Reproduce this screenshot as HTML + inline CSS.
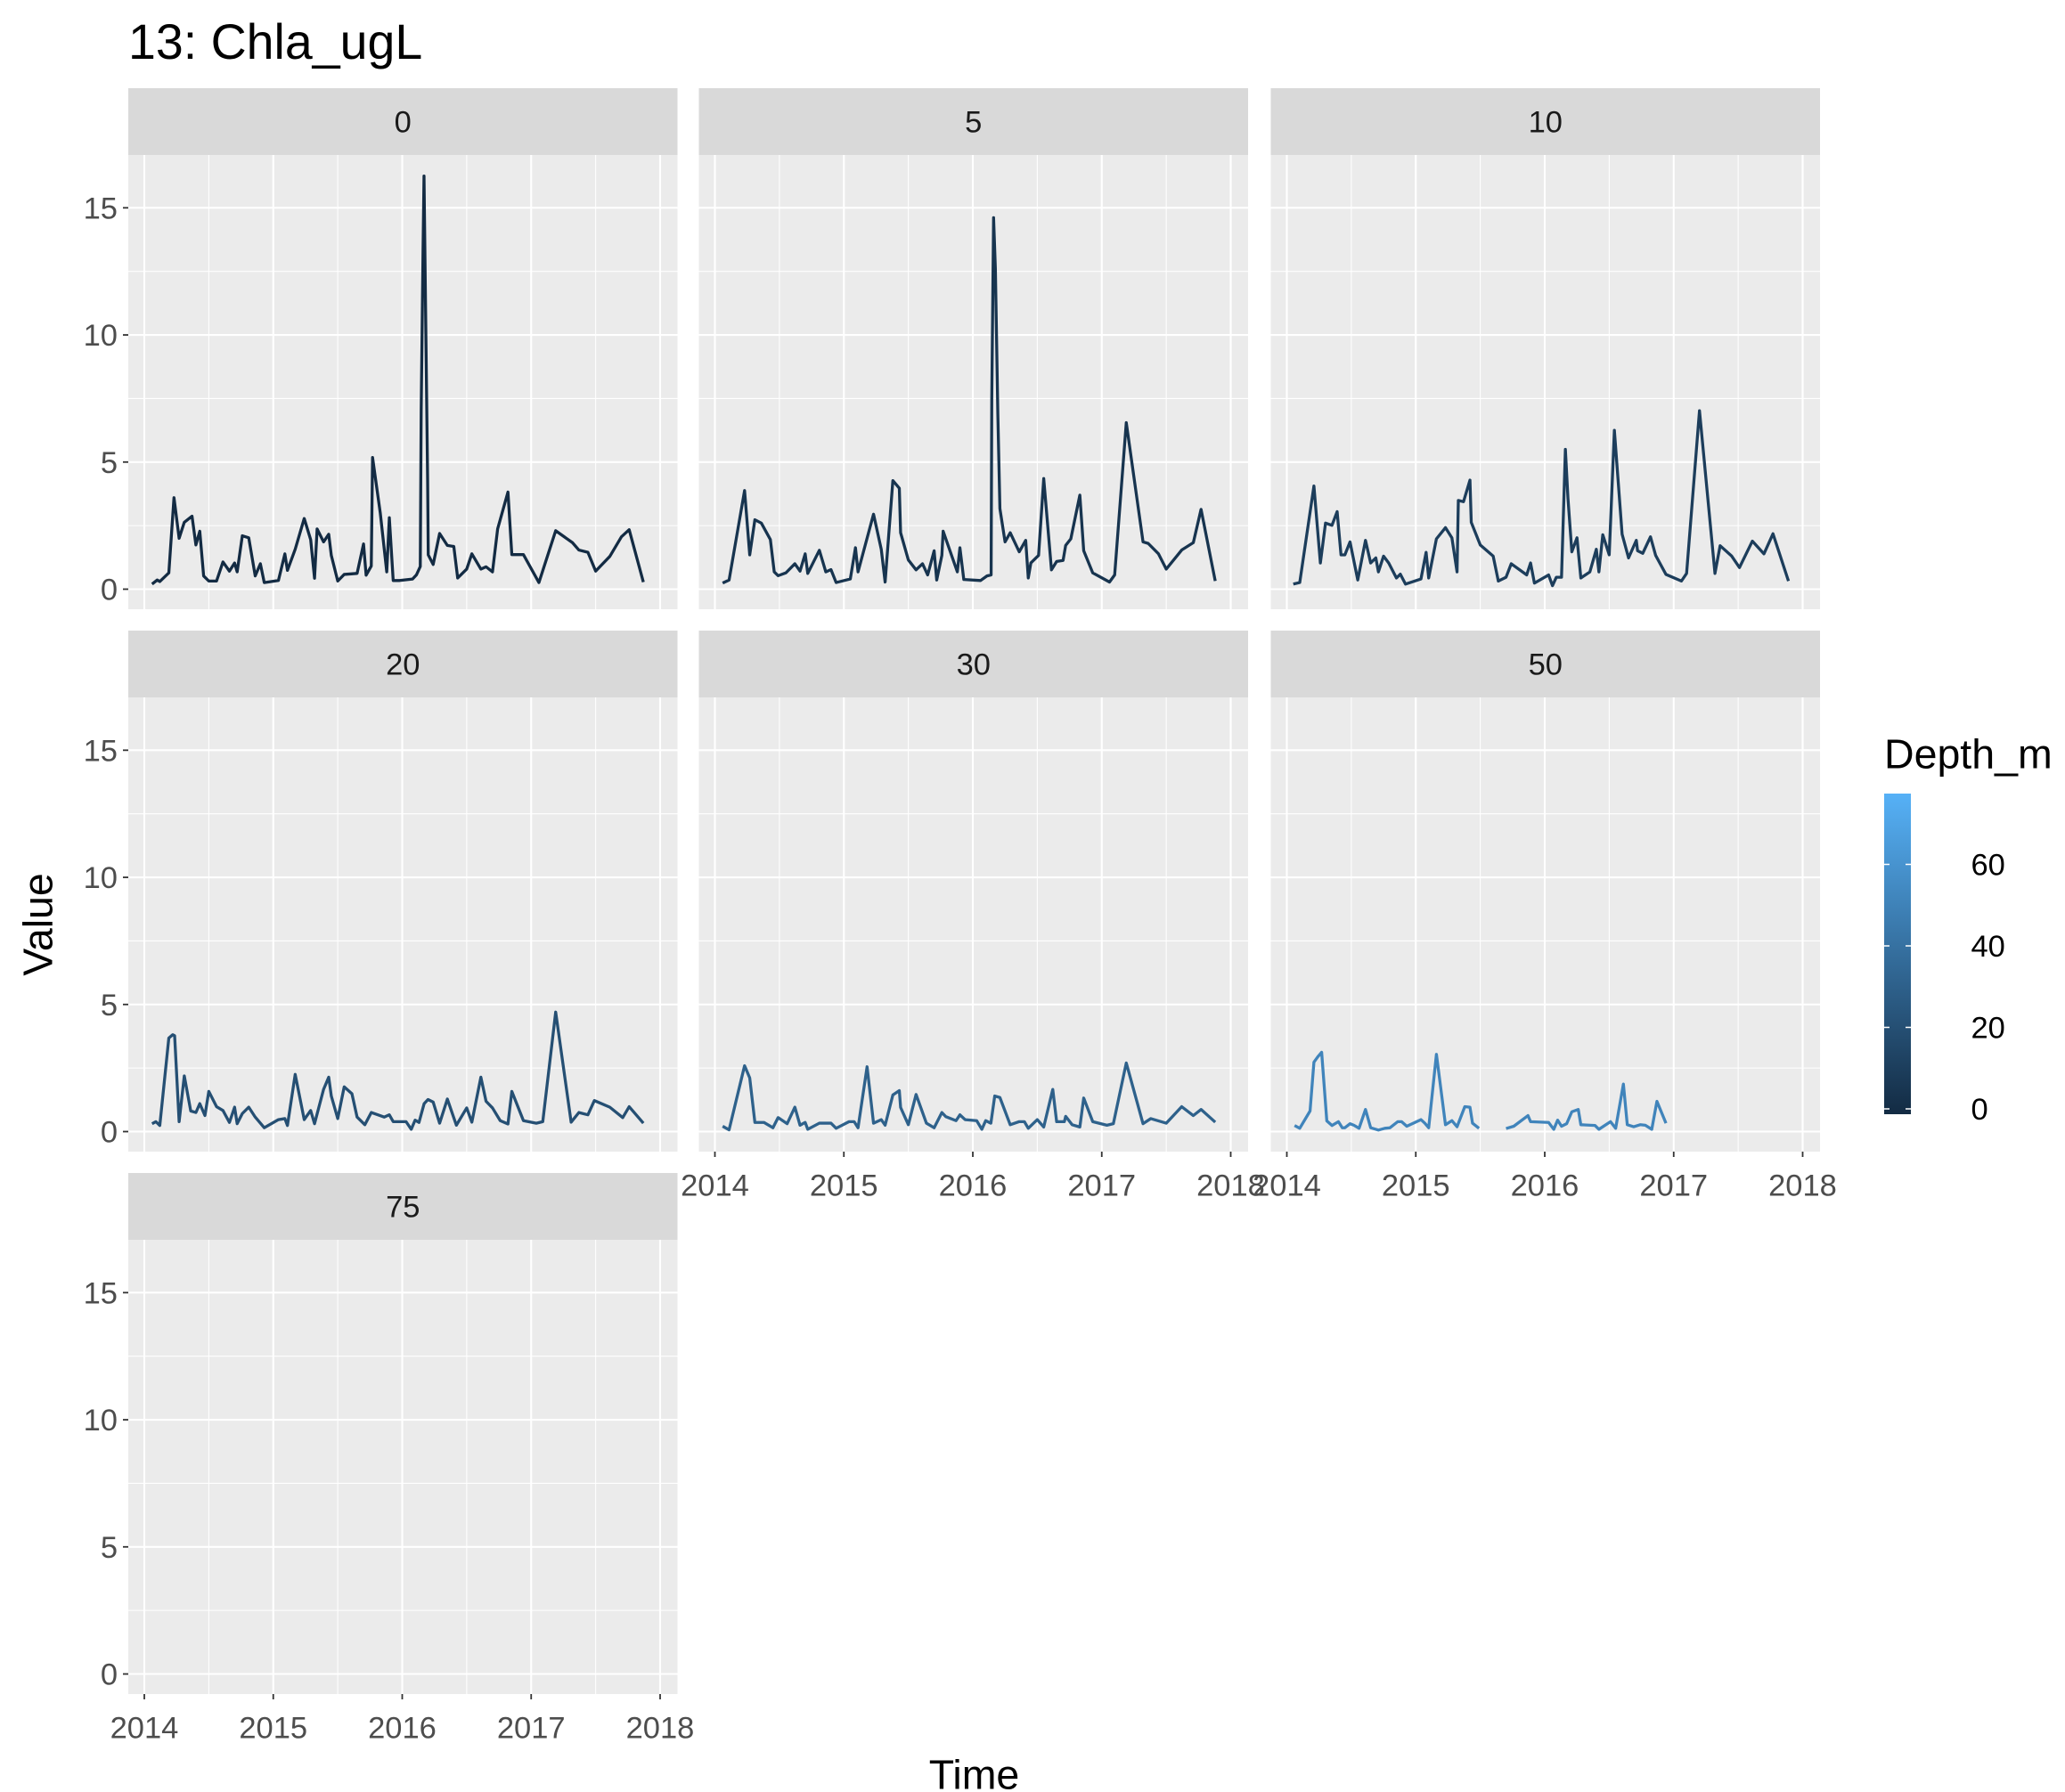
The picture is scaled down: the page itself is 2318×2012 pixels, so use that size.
<!DOCTYPE html>
<html><head><meta charset="utf-8">
<style>
html,body{margin:0;padding:0;background:#fff;}
svg{display:block;font-family:"Liberation Sans",Arial,sans-serif;}
</style></head>
<body>
<svg id="chart" width="2318" height="2012" viewBox="0 0 1545.33 1341.33" xmlns="http://www.w3.org/2000/svg">
<rect x="0" y="0" width="1545.33" height="1341.33" fill="#ffffff"/>
<text x="96" y="44" font-size="37" fill="#000">13: Chla_ugL</text>
<text transform="translate(39,692) rotate(-90)" text-anchor="middle" font-size="31" fill="#000">Value</text>
<text x="729" y="1339" text-anchor="middle" font-size="31" fill="#000">Time</text>
<g id="panels"></g>
<g id="legend">
<defs><linearGradient id="cbar" x1="0" y1="1" x2="0" y2="0"><stop offset="0" stop-color="#132B43"/><stop offset="1" stop-color="#56B1F7"/></linearGradient></defs>
<text x="1410" y="575" font-size="31" fill="#000">Depth_m</text>
<rect x="1410" y="594" width="20" height="240" fill="url(#cbar)"/>
<g id="legendTicks"></g>
</g>
</svg>
<script>
const depths = [0, 5, 10, 20, 30, 50, 75];
const panelLabels = ["0", "5", "10", "20", "30", "50", "75"];
const yTickValues = [0, 5, 10, 15];
const yTickLabels = ["0", "5", "10", "15"];
const xTickValues = [2014, 2015, 2016, 2017, 2018];
const xTickLabels = ["2014", "2015", "2016", "2017", "2018"];
const legendValues = [0, 20, 40, 60];
const legendLabels = ["0", "20", "40", "60"];

const years0 = [2014.06,2014.10,2014.12,2014.19,2014.23,2014.27,2014.31,2014.37,2014.40,2014.43,2014.46,2014.50,2014.56,2014.61,2014.66,2014.70,2014.72,2014.76,2014.81,2014.86,2014.90,2014.93,2015.04,2015.09,2015.11,2015.17,2015.24,2015.29,2015.32,2015.34,2015.39,2015.43,2015.45,2015.50,2015.55,2015.65,2015.70,2015.72,2015.76,2015.77,2015.83,2015.88,2015.90,2015.93,2015.98,2016.08,2016.11,2016.14,2016.147,2016.161,2016.169,2016.183,2016.197,2016.202,2016.24,2016.29,2016.35,2016.40,2016.43,2016.50,2016.54,2016.61,2016.65,2016.70,2016.74,2016.82,2016.85,2016.94,2017.06,2017.19,2017.32,2017.37,2017.44,2017.50,2017.61,2017.70,2017.76,2017.87];
const vals0 = [0.2,0.36,0.3,0.64,3.6,2.0,2.63,2.87,1.74,2.28,0.52,0.32,0.32,1.07,0.71,1.03,0.68,2.1,2.02,0.52,1.0,0.26,0.34,1.39,0.74,1.57,2.78,1.95,0.43,2.37,1.86,2.16,1.33,0.32,0.58,0.62,1.78,0.55,0.91,5.18,2.99,0.68,2.81,0.34,0.34,0.4,0.56,0.89,7.02,13.19,16.25,10.23,4.29,1.35,0.97,2.19,1.72,1.68,0.44,0.79,1.39,0.79,0.88,0.68,2.37,3.82,1.36,1.36,0.26,2.3,1.83,1.54,1.45,0.71,1.29,2.06,2.34,0.28];

const years5 = [2014.06,2014.11,2014.23,2014.27,2014.31,2014.36,2014.43,2014.46,2014.49,2014.55,2014.62,2014.66,2014.70,2014.72,2014.81,2014.86,2014.90,2014.94,2015.05,2015.09,2015.11,2015.23,2015.29,2015.32,2015.38,2015.43,2015.44,2015.50,2015.56,2015.61,2015.65,2015.70,2015.72,2015.76,2015.77,2015.88,2015.90,2015.93,2016.06,2016.11,2016.142,2016.147,2016.161,2016.175,2016.194,2016.21,2016.25,2016.29,2016.36,2016.41,2016.43,2016.45,2016.51,2016.55,2016.61,2016.65,2016.70,2016.72,2016.76,2016.83,2016.86,2016.93,2017.06,2017.10,2017.19,2017.32,2017.36,2017.44,2017.50,2017.62,2017.71,2017.77,2017.88];
const vals5 = [0.24,0.36,3.88,1.35,2.73,2.6,1.95,0.68,0.53,0.64,1.0,0.71,1.39,0.62,1.53,0.68,0.77,0.26,0.4,1.63,0.68,2.95,1.57,0.28,4.27,3.97,2.22,1.15,0.76,1.0,0.56,1.51,0.36,1.33,2.28,0.68,1.63,0.38,0.34,0.52,0.56,7.5,14.61,12.6,6.9,3.17,1.86,2.22,1.47,1.92,0.44,1.03,1.33,4.35,0.76,1.09,1.13,1.72,1.98,3.7,1.51,0.64,0.28,0.56,6.55,1.86,1.8,1.39,0.79,1.54,1.83,3.14,0.32];

const years10 = [2014.05,2014.10,2014.21,2014.26,2014.30,2014.35,2014.39,2014.42,2014.45,2014.49,2014.55,2014.61,2014.65,2014.69,2014.71,2014.75,2014.79,2014.85,2014.88,2014.92,2015.04,2015.08,2015.10,2015.16,2015.23,2015.28,2015.32,2015.33,2015.37,2015.42,2015.43,2015.50,2015.60,2015.64,2015.70,2015.74,2015.86,2015.89,2015.92,2016.03,2016.06,2016.09,2016.13,2016.16,2016.18,2016.21,2016.25,2016.28,2016.35,2016.40,2016.42,2016.45,2016.50,2016.54,2016.60,2016.65,2016.71,2016.72,2016.76,2016.82,2016.86,2016.94,2017.06,2017.10,2017.20,2017.32,2017.36,2017.45,2017.51,2017.61,2017.70,2017.77,2017.89];
const vals10 = [0.2,0.26,4.06,1.03,2.6,2.51,3.05,1.35,1.35,1.86,0.36,1.92,1.03,1.23,0.68,1.3,1.03,0.44,0.59,0.2,0.4,1.45,0.44,1.98,2.42,2.02,0.68,3.49,3.44,4.29,2.63,1.74,1.3,0.32,0.47,1.0,0.56,1.03,0.24,0.56,0.14,0.47,0.47,5.5,3.58,1.47,2.02,0.44,0.68,1.57,0.68,2.14,1.35,6.25,2.16,1.23,1.92,1.51,1.41,2.06,1.33,0.58,0.32,0.62,7.02,0.62,1.71,1.3,0.85,1.89,1.39,2.18,0.32];

const years20 = [2014.06,2014.09,2014.12,2014.19,2014.22,2014.235,2014.27,2014.31,2014.36,2014.40,2014.43,2014.47,2014.50,2014.56,2014.61,2014.66,2014.70,2014.72,2014.76,2014.81,2014.86,2014.93,2015.04,2015.09,2015.11,2015.17,2015.24,2015.29,2015.32,2015.39,2015.43,2015.45,2015.50,2015.55,2015.61,2015.65,2015.71,2015.76,2015.86,2015.90,2015.93,2016.03,2016.07,2016.10,2016.13,2016.17,2016.20,2016.24,2016.29,2016.35,2016.42,2016.50,2016.54,2016.61,2016.65,2016.70,2016.76,2016.82,2016.85,2016.94,2017.04,2017.09,2017.19,2017.31,2017.37,2017.44,2017.49,2017.61,2017.71,2017.76,2017.87];
const vals20 = [0.31,0.39,0.24,3.68,3.81,3.77,0.39,2.19,0.81,0.75,1.1,0.63,1.58,0.98,0.83,0.36,0.96,0.31,0.71,0.96,0.57,0.15,0.47,0.51,0.24,2.25,0.47,0.83,0.31,1.66,2.14,1.4,0.51,1.76,1.49,0.57,0.27,0.75,0.57,0.66,0.39,0.39,0.09,0.45,0.36,1.1,1.26,1.16,0.33,1.28,0.25,0.93,0.37,2.14,1.19,0.93,0.43,0.3,1.58,0.43,0.33,0.39,4.7,0.37,0.75,0.66,1.22,0.96,0.55,0.98,0.33];

const years30 = [2014.06,2014.11,2014.23,2014.27,2014.31,2014.38,2014.45,2014.49,2014.56,2014.62,2014.66,2014.70,2014.72,2014.81,2014.90,2014.94,2015.04,2015.08,2015.11,2015.18,2015.23,2015.29,2015.32,2015.38,2015.43,2015.44,2015.50,2015.56,2015.64,2015.70,2015.76,2015.79,2015.87,2015.90,2015.94,2016.03,2016.07,2016.10,2016.14,2016.17,2016.21,2016.29,2016.36,2016.40,2016.43,2016.50,2016.55,2016.62,2016.65,2016.71,2016.72,2016.77,2016.83,2016.86,2016.93,2017.04,2017.09,2017.19,2017.32,2017.38,2017.50,2017.62,2017.71,2017.77,2017.88];
const vals30 = [0.21,0.07,2.59,2.11,0.36,0.36,0.15,0.55,0.31,0.96,0.25,0.36,0.09,0.33,0.33,0.13,0.39,0.39,0.15,2.55,0.33,0.47,0.25,1.44,1.61,0.95,0.27,1.46,0.33,0.15,0.75,0.59,0.43,0.66,0.47,0.43,0.09,0.43,0.33,1.4,1.34,0.27,0.39,0.39,0.13,0.47,0.18,1.66,0.39,0.39,0.6,0.27,0.18,1.32,0.39,0.25,0.31,2.7,0.31,0.51,0.33,0.98,0.63,0.87,0.37];

const years50 = [2014.06,2014.10,2014.18,2014.21,2014.24,2014.27,2014.31,2014.35,2014.40,2014.43,2014.45,2014.49,2014.52,2014.56,2014.61,2014.65,2014.71,2014.76,2014.80,2014.86,2014.89,2014.93,2015.04,2015.07,2015.10,2015.16,2015.23,2015.28,2015.32,2015.38,2015.42,2015.44,2015.49,2015.60,2015.70,2015.76,2015.87,2015.89,2016.03,2016.07,2016.10,2016.13,2016.17,2016.21,2016.26,2016.28,2016.39,2016.42,2016.51,2016.55,2016.61,2016.64,2016.69,2016.74,2016.78,2016.83,2016.87,2016.94];
const vals50 = [0.24,0.13,0.81,2.73,2.94,3.12,0.42,0.24,0.39,0.15,0.15,0.31,0.25,0.13,0.87,0.15,0.06,0.13,0.15,0.39,0.39,0.21,0.47,0.33,0.15,3.04,0.27,0.43,0.19,0.98,0.96,0.33,0.13,null,0.12,0.21,0.63,0.39,0.36,0.09,0.45,0.21,0.31,0.78,0.87,0.27,0.24,0.09,0.39,0.13,1.87,0.27,0.19,0.27,0.25,0.09,1.19,0.33];

const years75 = [];
const vals75 = [];

const seriesYears = [years0, years5, years10, years20, years30, years50, years75];
const seriesVals = [vals0, vals5, vals10, vals20, vals30, vals50, vals75];

const NS = "http://www.w3.org/2000/svg";
const colX = [96, 523, 951];
const rowTop = [66, 472, 878];
const PW = 411, STRIP = 50, PH = 340;
const DMAX = 75;

function xScale(year, col) { return colX[col] + 12 + (year - 2014) * 96.5; }
function yScale(v, row) { return rowTop[row] + STRIP + 325 - v * 19.03; }
function depthColor(d) {
  const t = Math.max(0, Math.min(1, d / DMAX));
  const a = [19, 43, 67], b = [86, 177, 247];
  return "rgb(" + a.map((c, i) => Math.round(c + (b[i] - c) * t)).join(",") + ")";
}
function mk(tag, attrs, parent) {
  const e = document.createElementNS(NS, tag);
  for (const k in attrs) e.setAttribute(k, attrs[k]);
  parent.appendChild(e);
  return e;
}

const panels = document.getElementById("panels");
depths.forEach((d, i) => {
  const col = i % 3, row = Math.floor(i / 3);
  const x0 = colX[col], st = rowTop[row], py = st + STRIP;
  const g = mk("g", {}, panels);
  
  
  const strip = mk("rect", {x: x0, y: st, width: PW, height: STRIP, fill: "#D9D9D9"}, g);
  
  
  const stxt = mk("text", {x: x0 + PW / 2, y: st + 33, "text-anchor": "middle", "font-size": 23, fill: "#1A1A1A"}, g);
  stxt.textContent = panelLabels[i];
  
  
  const bg = mk("rect", {x: x0, y: py, width: PW, height: PH, fill: "#EBEBEB"}, g);
  
  
  [2.5, 7.5, 12.5].forEach(v => {
    const l = mk("line", {x1: x0, x2: x0 + PW, y1: yScale(v, row), y2: yScale(v, row), stroke: "#fff", "stroke-width": 0.7}, g);
    
    
  });
  [2014.5, 2015.5, 2016.5, 2017.5].forEach(v => {
    const l = mk("line", {x1: xScale(v, col), x2: xScale(v, col), y1: py, y2: py + PH, stroke: "#fff", "stroke-width": 0.7}, g);
    
    
  });
  yTickValues.forEach(v => {
    const l = mk("line", {x1: x0, x2: x0 + PW, y1: yScale(v, row), y2: yScale(v, row), stroke: "#fff", "stroke-width": 1.4}, g);
    
    
  });
  xTickValues.forEach(v => {
    const l = mk("line", {x1: xScale(v, col), x2: xScale(v, col), y1: py, y2: py + PH, stroke: "#fff", "stroke-width": 1.4}, g);
    
    
  });
  if (col === 0) {
    yTickValues.forEach((v, k) => {
      const t = mk("line", {x1: x0 - 4, x2: x0, y1: yScale(v, row), y2: yScale(v, row), stroke: "#333", "stroke-width": 1.2}, g);
      
      
      const lb = mk("text", {x: x0 - 8, y: yScale(v, row) + 8, "text-anchor": "end", "font-size": 23, fill: "#4D4D4D"}, g);
      lb.textContent = yTickLabels[k];
      
      
    });
  }
  if (i >= 4) {
    xTickValues.forEach((v, k) => {
      const t = mk("line", {x1: xScale(v, col), x2: xScale(v, col), y1: py + PH, y2: py + PH + 4, stroke: "#333", "stroke-width": 1.2}, g);
      
      
      const lb = mk("text", {x: xScale(v, col), y: py + PH + 33, "text-anchor": "middle", "font-size": 23, fill: "#4D4D4D"}, g);
      lb.textContent = xTickLabels[k];
      
      
    });
  }
  const ys = seriesYears[i], vs = seriesVals[i];
  let dstr = "", pen = false;
  for (let k = 0; k < ys.length; k++) {
    if (vs[k] === null || vs[k] === undefined) { pen = false; continue; }
    dstr += (pen ? "L" : "M") + xScale(ys[k], col).toFixed(2) + "," + yScale(vs[k], row).toFixed(2);
    pen = true;
  }
  if (dstr) {
    const p = mk("path", {d: dstr, fill: "none", stroke: depthColor(d), "stroke-width": 2.2, "stroke-linejoin": "round"}, g);
    
    
  }
});

const lt = document.getElementById("legendTicks");
function legendY(v) { return 830 - v * 3.05; }
legendValues.forEach((v, k) => {
  const y = legendY(v);
  const a = mk("line", {x1: 1410, x2: 1414, y1: y, y2: y, stroke: "#fff", "stroke-width": 1}, lt);
  
  
  const b = mk("line", {x1: 1426, x2: 1430, y1: y, y2: y, stroke: "#fff", "stroke-width": 1}, lt);
  
  
  const lb = mk("text", {x: 1475, y: y + 8, "font-size": 23, fill: "#000"}, lt);
  lb.textContent = legendLabels[k];
  
  
});
</script>
</body></html>
